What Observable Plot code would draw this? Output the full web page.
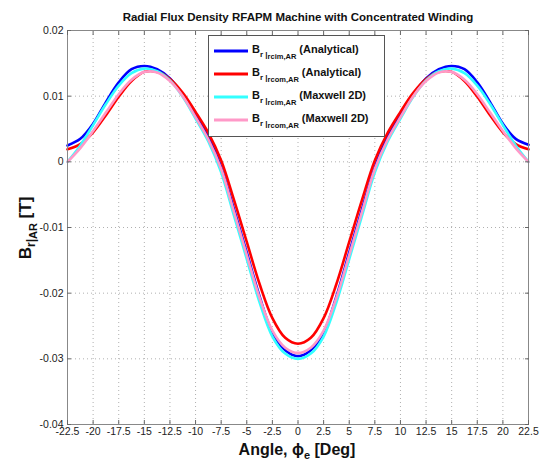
<!DOCTYPE html>
<html><head><meta charset="utf-8">
<script src="https://cdn.jsdelivr.net/npm/d3@7"></script>
<script src="https://cdn.jsdelivr.net/npm/@observablehq/plot@0.6"></script>
<style>body{margin:0;background:#fff}</style>
</head><body><div id="chart"></div>
<script>
const angles = [-22.5,-21.25,-20,-18.75,-17.5,-16.25,-15,-13.75,-12.5,-11.25,-10,-8.75,-7.5,-6.25,-5,-3.75,-2.5,-1.25,0,
  1.25,2.5,3.75,5,6.25,7.5,8.75,10,11.25,12.5,13.75,15,16.25,17.5,18.75,20,21.25,22.5];

const rcimAnalytical = [0.0025,0.0035,0.0058,0.0091,0.0121,0.0141,0.0146,0.0141,0.0127,0.0102,0.0071,0.0038,-0.0008,-0.0072,-0.0138,-0.0205,-0.0260,-0.0287,-0.0296,
  -0.0287,-0.0260,-0.0205,-0.0138,-0.0072,-0.0008,0.0038,0.0071,0.0102,0.0127,0.0141,0.0146,0.0141,0.0121,0.0091,0.0058,0.0035,0.0026];
const rcomAnalytical = [0.0019,0.0027,0.0045,0.0071,0.0099,0.0123,0.0137,0.0137,0.0126,0.0105,0.0076,0.0044,0.0002,-0.0058,-0.0122,-0.0186,-0.0238,-0.0268,-0.0277,
  -0.0268,-0.0238,-0.0186,-0.0122,-0.0058,0.0002,0.0044,0.0076,0.0105,0.0126,0.0137,0.0137,0.0123,0.0099,0.0071,0.0045,0.0027,0.0019];
const rcimMaxwell = [0.0000,0.0025,0.0056,0.0088,0.0116,0.0135,0.0142,0.0138,0.0124,0.0099,0.0066,0.0031,-0.0016,-0.0082,-0.0148,-0.0214,-0.0266,-0.0292,-0.0300,
  -0.0292,-0.0266,-0.0214,-0.0148,-0.0082,-0.0016,0.0031,0.0066,0.0099,0.0124,0.0138,0.0142,0.0135,0.0116,0.0088,0.0056,0.0025,0.0000];
const rcomMaxwell = [0.0000,0.0021,0.0047,0.0075,0.0103,0.0125,0.0137,0.0136,0.0123,0.0100,0.0068,0.0034,-0.0011,-0.0076,-0.0142,-0.0207,-0.0257,-0.0283,-0.0291,
  -0.0283,-0.0257,-0.0207,-0.0142,-0.0076,-0.0011,0.0034,0.0068,0.0100,0.0123,0.0136,0.0137,0.0125,0.0103,0.0075,0.0047,0.0021,0.0000];

const xTicks = [-22.5,-20,-17.5,-15,-12.5,-10,-7.5,-5,-2.5,0,2.5,5,7.5,10,12.5,15,17.5,20,22.5];
const yTicks = [-0.04,-0.03,-0.02,-0.01,0,0.01,0.02];
const yTickLabels = ["-0.04","-0.03","-0.02","-0.01","0","0.01","0.02"];

const seriesNames = ["rcim Analytical","rcom Analytical","rcim Maxwell","rcom Maxwell"];
const seriesColors = ["#0000ff","#ff0000","#33ffff","#ff99c8"];
const seriesValues = [rcimAnalytical, rcomAnalytical, rcimMaxwell, rcomMaxwell];
const legendSub = ["rcim,AR","rcom,AR","rcim,AR","rcom,AR"];
const legendKind = ["(Analytical)","(Analytical)","(Maxwell 2D)","(Maxwell 2D)"];
const title = "Radial Flux Density RFAPM Machine with Concentrated Winding";

const rows = seriesNames.flatMap((s, i) => angles.map((a, j) => ({series: s, angle: a, value: seriesValues[i][j]})));

const gridStyle = {stroke: "#b0b0b0", strokeOpacity: 1, strokeDasharray: "1,3"};
const chart = Plot.plot({
  width: 542, height: 463,
  marginLeft: 67, marginRight: 14, marginTop: 30, marginBottom: 39,
  style: {fontFamily: "'Liberation Sans', Arial, sans-serif", fontSize: "10.5px", background: "white", color: "#222"},
  x: {domain: [-22.5, 22.5]},
  y: {domain: [-0.04, 0.02]},
  marks: [
    Plot.gridX(xTicks, gridStyle),
    Plot.gridY(yTicks, gridStyle),
    ...seriesNames.map((s, i) => Plot.line(rows.filter(r => r.series === s), {x: "angle", y: "value", stroke: seriesColors[i], strokeWidth: 2.6, curve: "catmull-rom"})),
    Plot.frame({stroke: "#888"}),
    Plot.axisX(xTicks, {anchor: "bottom", tickSize: -4, tickFormat: () => "", stroke: "#666", label: null}),
    Plot.axisX(xTicks, {anchor: "top", tickSize: -4, tickFormat: () => "", stroke: "#666", label: null}),
    Plot.axisY(yTicks, {anchor: "left", tickSize: -4, tickFormat: () => "", stroke: "#666", label: null}),
    Plot.axisY(yTicks, {anchor: "right", tickSize: -4, tickFormat: () => "", stroke: "#666", label: null}),
    Plot.axisX(xTicks, {anchor: "bottom", tickSize: 0, tickPadding: 3, tickFormat: d => String(d), label: null}),
    Plot.axisY(yTicks, {anchor: "left", tickSize: 0, tickPadding: 4, tickFormat: (d, i) => yTickLabels[i], label: null}),
    Plot.text([title], {frameAnchor: "top", dy: -10, fontWeight: "bold", fontSize: 11.5, lineAnchor: "bottom", fill: "#111"})
  ]
});
document.getElementById("chart").appendChild(chart);

const svg = d3.select(chart);
// Legend
const lg = svg.append("g").attr("font-weight", "bold").attr("fill", "#111").attr("text-anchor", "start");
lg.append("rect").attr("x", 208.5).attr("y", 35.5).attr("width", 176).attr("height", 101).attr("fill", "white").attr("stroke", "#555");
seriesNames.forEach((s, i) => {
  const cy = 51 + i * 23;
  lg.append("line").attr("x1", 214).attr("x2", 248).attr("y1", cy).attr("y2", cy).attr("stroke", seriesColors[i]).attr("stroke-width", 3);
  const t = lg.append("text").attr("x", 252).attr("y", cy + 2).attr("font-size", 11).attr("text-anchor", "start");
  t.append("tspan").text("B");
  t.append("tspan").attr("dy", 4).attr("font-size", 8).text("r");
  t.append("tspan").attr("font-size", 8).text(" |");
  t.append("tspan").attr("dy", 2).attr("font-size", 7.5).text(legendSub[i]);
  t.append("tspan").attr("dy", -6).text(" " + legendKind[i]);
});
// X label
const xl = svg.append("text").attr("x", 297).attr("y", 455).attr("text-anchor", "middle").attr("font-weight", "bold").attr("font-size", 16).attr("fill", "#111");
xl.append("tspan").text("Angle, ϕ");
xl.append("tspan").attr("dy", 4).attr("font-size", 11).text("e");
xl.append("tspan").attr("dy", -4).text(" [Deg]");
// Y label
const yl = svg.append("text").attr("transform", "translate(31,228) rotate(-90)").attr("text-anchor", "middle").attr("font-weight", "bold").attr("font-size", 17).attr("fill", "#111");
yl.append("tspan").text("B");
yl.append("tspan").attr("dy", 4).attr("font-size", 12).text("r");
yl.append("tspan").attr("font-size", 12).text("|");
yl.append("tspan").attr("dy", 2).attr("font-size", 11).text("AR");
yl.append("tspan").attr("dy", -6).text(" [T]");
</script></body></html>
